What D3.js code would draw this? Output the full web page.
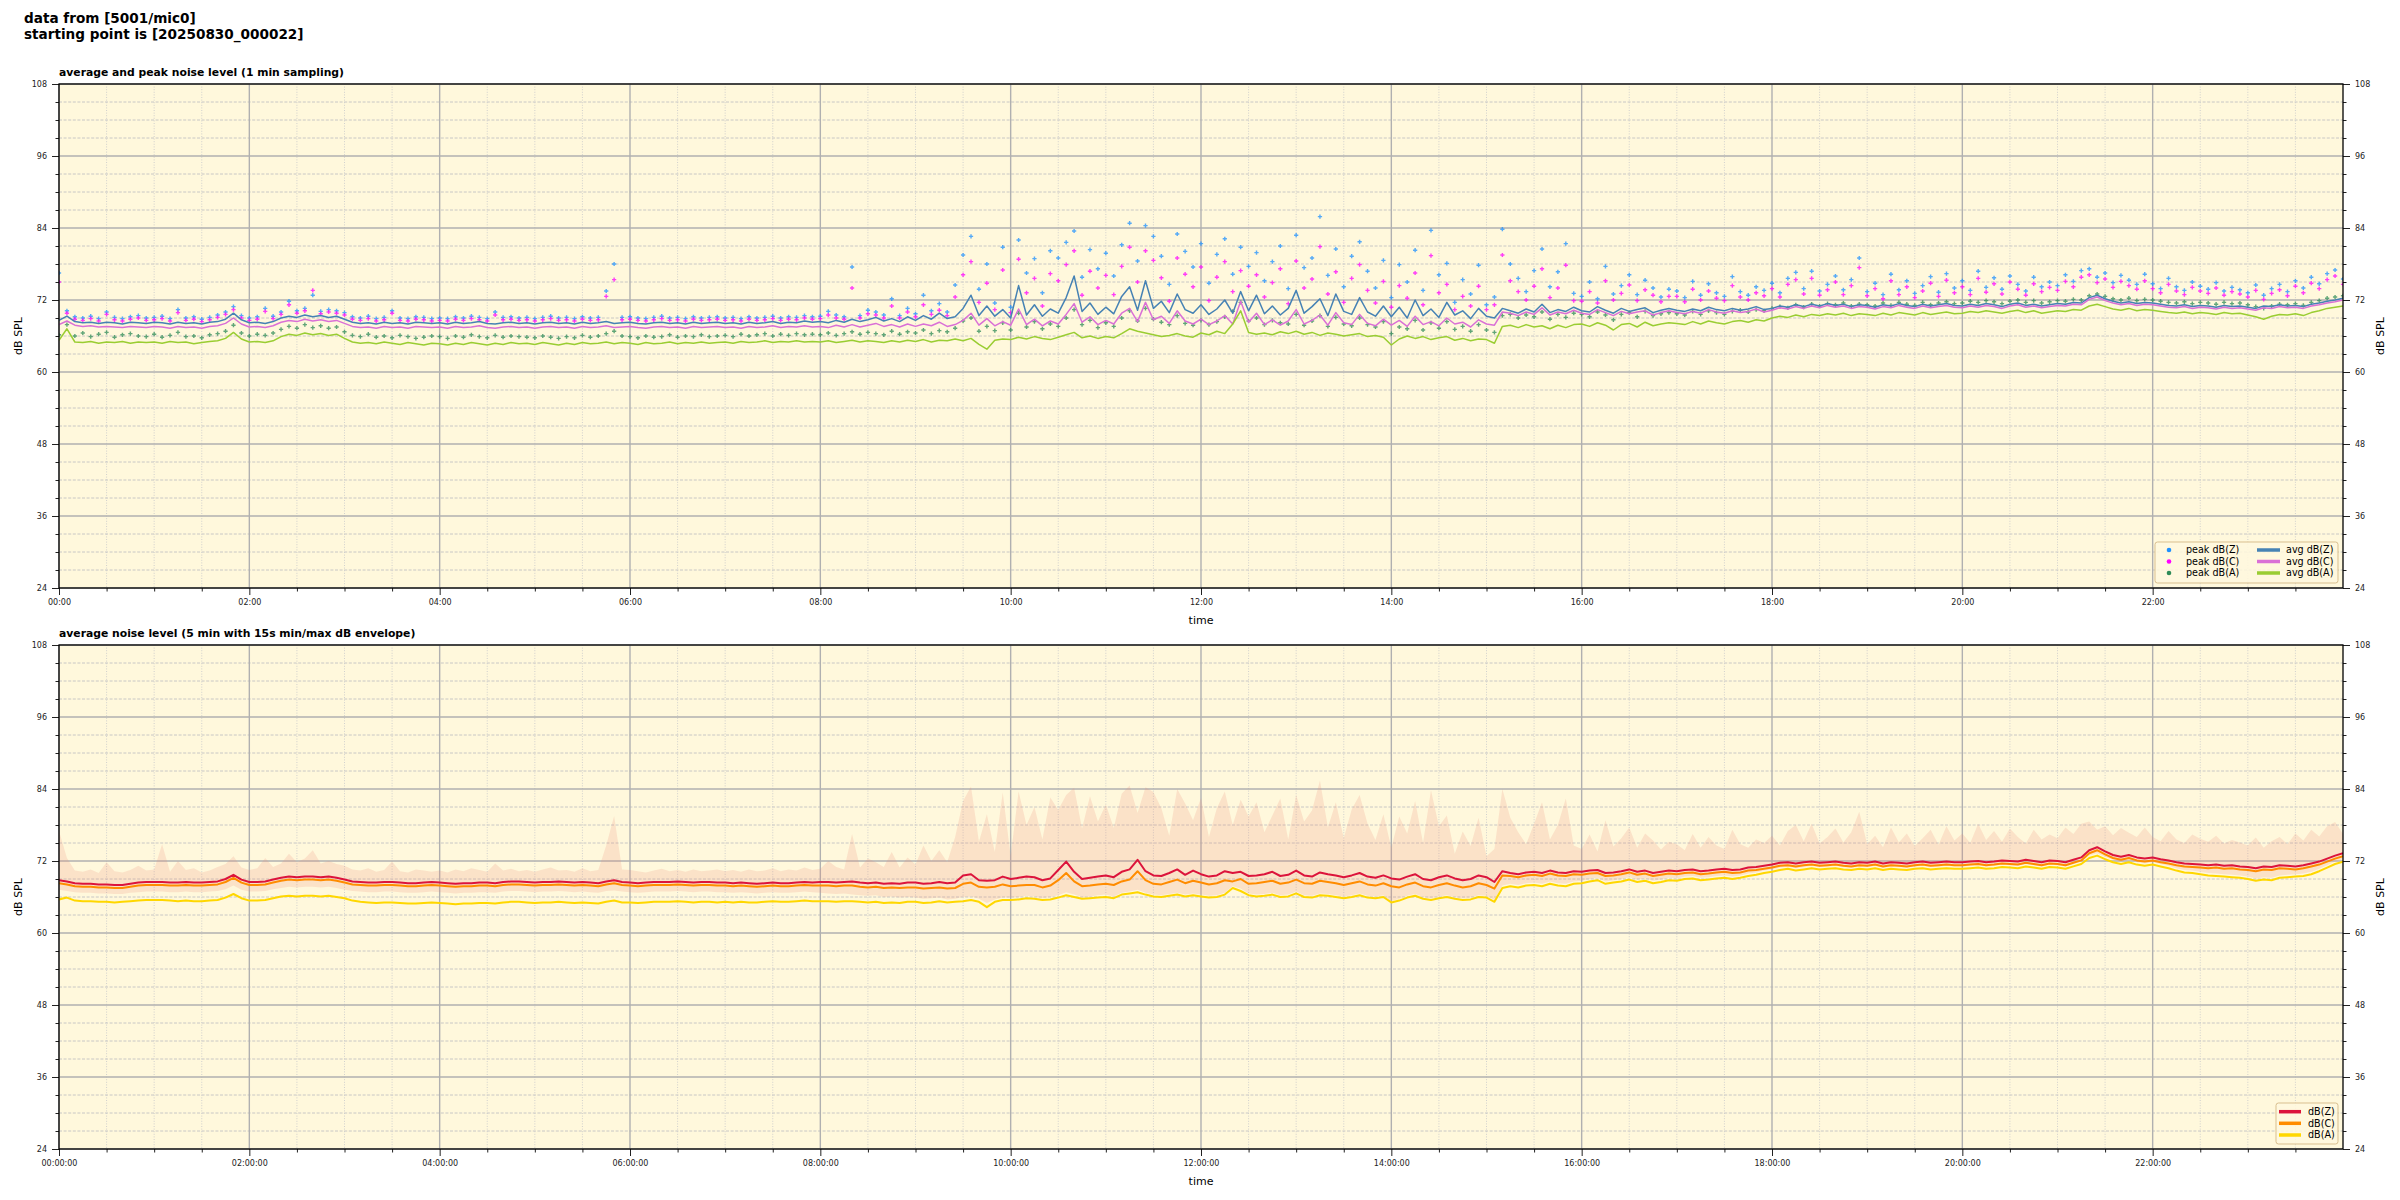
<!DOCTYPE html>
<html><head><meta charset="utf-8">
<script src="https://cdn.jsdelivr.net/npm/d3@7"></script>
<style>body{margin:0;background:#fff} text{font-family:"DejaVu Sans",sans-serif}</style>
</head><body><svg id="c" width="2400" height="1200" xmlns="http://www.w3.org/2000/svg"></svg>
<script>
// ---------------- DATA ----------------
const titleLines = ["data from [5001/mic0]", "starting point is [20250830_000022]"];
const topTitle = "average and peak noise level (1 min sampling)";
const bottomTitle = "average noise level (5 min with 15s min/max dB envelope)";
const startISO = "2025-08-30T00:00:00Z";
const stepMinutes = 5;
const yMajorTicks = [24, 36, 48, 60, 72, 84, 96, 108];
const yDomain = [24, 108];
const topLegend = ["peak dB(Z)", "peak dB(C)", "peak dB(A)", "avg dB(Z)", "avg dB(C)", "avg dB(A)"];
const bottomLegend = ["dB(Z)", "dB(C)", "dB(A)"];

// top panel: 1-min sampling, read every 5 min
const avgZ = [
68.6,69.3,68.4,68.2,68.3,68.1,68.3,68.2,68.0,68.3,68.2,68.1,
68.3,68.2,68.0,68.3,68.1,68.2,68.0,68.3,68.4,68.8,69.8,68.7,
68.2,68.3,68.1,68.4,69.0,69.3,69.1,69.5,69.2,69.4,69.1,69.3,
68.8,68.3,68.1,68.2,68.0,68.3,68.1,68.2,68.0,68.3,68.2,68.1,
68.2,68.0,68.3,68.1,68.2,68.4,68.1,68.0,68.2,68.3,68.1,68.2,
68.0,68.2,68.3,68.1,68.2,68.0,68.3,68.1,68.2,68.4,68.1,68.2,
68.3,68.1,68.0,68.2,68.3,68.1,68.2,68.0,68.3,68.1,68.2,68.3,
68.1,68.2,68.0,68.3,68.1,68.2,68.4,68.1,68.3,68.2,68.5,68.3,
68.4,68.2,68.6,68.3,68.8,68.4,68.7,69.1,68.5,68.9,68.4,69.2,
68.6,69.4,68.8,69.8,68.9,69.2,70.6,72.8,69.4,71.0,69.3,70.4,
69.0,74.4,69.5,71.2,69.3,70.5,69.8,72.4,76.0,70.1,71.5,69.6,
70.8,69.7,72.6,74.2,70.3,75.2,70.6,71.8,69.9,73.0,70.4,69.8,
71.2,69.6,70.5,72.0,69.8,73.4,70.2,72.8,69.7,71.0,69.5,70.6,
73.6,69.8,70.9,72.2,69.4,73.0,70.1,69.6,72.4,70.0,69.3,71.0,
69.2,70.8,69.0,72.0,69.4,70.5,69.1,71.6,69.5,70.2,68.9,70.6,
69.3,69.0,70.6,70.2,69.8,70.5,70.0,71.3,69.9,70.4,70.1,70.8,
70.2,70.0,70.9,70.3,69.8,70.6,70.1,70.4,70.7,69.9,70.3,70.6,
70.3,70.1,70.5,70.2,70.8,70.4,70.2,70.6,70.3,70.5,70.9,70.4,
70.6,71.0,70.8,71.2,70.9,71.3,71.0,71.4,71.1,71.3,70.9,71.2,
71.1,70.8,71.2,71.0,71.4,71.1,70.9,71.3,71.0,71.2,71.4,71.1,
71.0,71.3,71.1,71.4,71.2,70.9,71.3,71.5,71.1,71.3,71.0,71.2,
71.4,71.3,71.6,71.5,72.4,72.8,72.2,71.8,71.5,71.7,71.4,71.6,
71.5,71.3,71.1,71.0,71.2,70.9,71.1,71.0,70.8,71.1,70.9,71.0,
70.8,70.6,71.0,70.9,71.2,71.0,71.1,70.9,71.3,71.5,71.8,72.0,
72.3];
const avgC = [
67.9,68.5,67.8,67.6,67.7,67.5,67.6,67.5,67.4,67.6,67.5,67.4,
67.6,67.5,67.3,67.6,67.4,67.5,67.3,67.6,67.7,68.1,69.0,68.0,
67.5,67.6,67.4,67.7,68.3,68.6,68.4,68.8,68.5,68.7,68.4,68.6,
68.1,67.6,67.4,67.5,67.3,67.6,67.4,67.5,67.3,67.6,67.5,67.4,
67.5,67.3,67.6,67.4,67.5,67.7,67.4,67.3,67.5,67.6,67.4,67.5,
67.3,67.5,67.6,67.4,67.5,67.3,67.6,67.4,67.5,67.7,67.4,67.5,
67.6,67.4,67.3,67.5,67.6,67.4,67.5,67.3,67.6,67.4,67.5,67.6,
67.4,67.5,67.3,67.6,67.4,67.5,67.7,67.4,67.6,67.5,67.7,67.5,
67.6,67.4,67.8,67.5,67.9,67.5,67.8,68.1,67.6,67.9,67.5,68.0,
67.6,68.0,67.7,68.3,67.6,67.9,68.6,69.8,67.8,68.9,67.7,68.4,
67.8,70.5,67.9,68.8,67.7,68.5,68.0,69.6,71.4,68.3,69.2,67.9,
68.6,68.0,69.8,70.6,68.4,71.6,68.7,69.3,68.1,70.2,68.5,68.0,
68.8,67.9,68.5,69.4,68.0,71.8,68.3,69.8,67.9,68.7,67.8,68.5,
70.4,68.0,68.6,69.5,67.8,69.9,68.2,67.9,69.6,68.1,67.7,68.8,
67.8,68.6,67.6,69.3,67.9,68.4,67.7,69.0,68.0,68.3,67.5,68.7,
68.0,67.8,70.0,69.8,69.4,70.0,69.6,70.7,69.5,70.0,69.7,70.3,
69.8,69.6,70.4,69.9,69.4,70.1,69.7,70.0,70.2,69.5,69.9,70.2,
69.9,69.7,70.1,69.8,70.4,70.0,69.8,70.2,69.9,70.1,70.5,70.0,
70.3,70.7,70.5,70.9,70.6,71.0,70.7,71.1,70.8,71.0,70.6,70.9,
70.8,70.5,70.9,70.7,71.1,70.8,70.6,71.0,70.7,70.9,71.1,70.8,
70.7,71.0,70.8,71.1,70.9,70.6,71.0,71.2,70.8,71.0,70.7,70.9,
71.1,71.0,71.3,71.2,72.1,72.5,71.9,71.5,71.2,71.4,71.1,71.3,
71.2,71.0,70.8,70.7,70.9,70.6,70.8,70.7,70.5,70.8,70.6,70.7,
70.5,70.3,70.7,70.6,70.9,70.7,70.8,70.6,71.0,71.2,71.5,71.7,
72.0];
const avgA = [
65.3,67.2,65.0,64.9,65.1,64.8,65.0,64.9,65.1,64.8,65.0,64.9,
65.0,64.8,65.1,64.9,65.0,64.7,64.9,65.1,65.2,65.6,66.6,65.5,
65.0,65.1,64.9,65.2,65.9,66.3,66.1,66.5,66.2,66.4,66.1,66.3,
65.6,65.0,64.8,64.9,64.7,65.0,64.8,64.6,64.9,64.7,64.5,64.8,
64.7,64.5,64.8,64.6,64.9,64.7,64.5,64.8,64.6,64.9,64.7,64.8,
64.6,64.9,64.7,64.5,64.8,64.6,64.9,64.7,64.8,65.0,64.7,64.9,
64.8,64.6,64.9,64.7,64.8,65.0,64.7,64.9,64.8,65.0,64.8,64.9,
65.0,64.8,65.1,64.9,65.0,65.2,64.9,65.1,65.0,65.2,65.0,65.1,
65.0,65.2,64.9,65.1,65.3,65.0,65.2,65.1,64.9,65.2,65.0,65.3,
65.1,65.4,65.0,65.3,65.2,65.5,65.2,65.6,64.6,63.8,65.3,65.5,
65.4,65.8,65.5,65.9,65.6,65.4,65.8,66.2,66.6,65.7,66.0,65.6,
65.9,65.7,66.4,67.2,66.8,66.5,66.2,65.9,66.1,66.4,66.0,65.8,
66.5,66.2,66.8,66.4,68.0,70.2,66.6,66.3,66.5,66.2,66.7,66.4,
66.8,66.3,66.6,66.1,66.5,66.3,66.0,66.2,66.4,65.9,66.1,65.8,
64.5,65.5,66.0,65.6,65.9,65.4,65.7,65.9,65.3,65.6,65.2,65.5,
65.4,64.8,67.6,67.8,67.4,67.9,67.5,67.7,67.2,67.8,67.4,67.9,
68.0,67.6,68.2,67.8,67.0,67.9,68.1,67.5,68.3,67.7,68.0,68.2,
68.1,67.9,68.4,68.0,68.5,68.2,68.0,68.4,68.6,68.3,68.7,68.5,
69.0,69.3,69.1,69.5,69.2,69.6,69.4,69.7,69.5,69.8,69.4,69.7,
69.6,69.4,69.8,69.5,69.9,69.7,69.5,69.9,69.6,69.8,70.0,69.7,
69.8,70.1,69.9,70.2,70.0,69.8,70.1,70.3,69.9,70.2,69.8,70.0,
70.2,70.1,70.4,70.3,71.0,71.3,70.9,70.5,70.3,70.6,70.2,70.4,
70.3,70.1,69.9,69.8,70.0,69.7,69.9,69.8,69.6,69.9,69.7,69.8,
69.5,69.2,68.8,69.3,69.6,69.5,69.7,69.4,69.9,70.2,70.6,70.8,
71.0];
const peakZ = [
76.5,70.2,69.2,69.0,69.3,68.9,70.0,69.1,68.9,69.2,69.4,69.0,
69.1,69.3,68.9,70.4,69.0,69.2,68.8,69.1,69.5,70.0,70.9,69.4,
69.0,69.2,70.6,69.3,70.0,71.8,70.2,70.6,72.8,70.1,70.4,70.2,
69.9,69.2,69.0,69.3,68.9,69.1,70.2,69.0,68.9,69.2,69.1,68.9,
69.0,68.9,69.2,69.0,69.3,69.1,68.9,70.0,69.1,69.2,69.0,69.1,
68.9,69.1,69.3,69.0,69.1,68.9,69.2,69.0,69.1,73.5,78.0,69.1,
69.2,69.0,68.9,69.1,69.3,69.0,69.1,68.9,69.2,69.0,69.1,69.2,
69.0,69.1,68.9,69.2,69.0,69.1,69.3,69.0,69.2,69.1,69.4,69.2,
69.3,70.1,69.5,69.2,77.5,69.4,70.3,70.0,69.5,72.2,69.4,70.6,
69.7,72.8,70.2,71.4,70.0,74.5,79.5,82.6,73.8,78.0,71.5,80.8,
70.8,82.0,76.5,78.9,73.2,80.2,79.0,81.6,83.5,75.8,80.4,77.2,
79.8,76.0,81.2,84.8,78.5,84.4,82.6,79.3,74.6,83.0,80.1,77.5,
81.4,74.8,79.6,82.2,76.3,80.8,77.6,79.9,75.2,78.4,81.0,73.9,
82.8,77.4,79.0,85.9,76.1,80.5,74.2,79.3,81.7,76.8,74.0,78.6,
72.4,77.9,75.0,80.3,73.6,83.6,76.2,78.1,71.6,75.4,73.0,77.8,
71.2,72.5,83.8,78.0,75.6,73.4,76.9,80.5,74.2,76.7,81.4,73.1,
72.6,75.0,72.2,77.6,73.0,74.4,76.2,72.9,75.3,74.0,72.5,73.8,
73.5,72.4,75.1,72.8,74.7,73.2,72.6,75.9,73.4,72.8,74.2,73.6,
74.8,73.2,75.6,76.6,73.9,76.8,73.5,74.6,76.0,73.7,75.4,79.0,
73.4,74.8,72.9,76.3,73.7,75.2,73.1,74.4,75.9,73.3,76.4,74.0,
75.2,73.6,76.8,74.1,75.7,73.8,76.0,74.6,73.5,75.8,74.2,75.0,
74.4,76.2,75.1,76.9,77.2,75.8,76.5,74.9,76.1,75.3,74.6,76.3,
74.7,73.9,75.6,74.2,73.6,75.0,74.3,73.8,74.9,73.5,74.1,73.7,
73.2,74.5,72.8,73.9,74.6,73.4,75.2,74.0,75.8,74.7,76.4,77.0,
75.5];
const peakC = [
75.0,69.8,68.8,68.6,68.9,68.5,69.6,68.7,68.5,68.8,69.0,68.6,
68.7,68.9,68.5,69.9,68.6,68.8,68.4,68.7,69.1,69.6,70.4,69.0,
68.6,68.8,70.1,68.9,69.6,71.2,69.8,70.2,73.6,69.7,70.0,69.8,
69.5,68.8,68.6,68.9,68.5,68.7,69.8,68.6,68.5,68.8,68.7,68.5,
68.6,68.5,68.8,68.6,68.9,68.7,68.5,69.5,68.7,68.8,68.6,68.7,
68.5,68.7,68.9,68.6,68.7,68.5,68.8,68.6,68.7,72.6,75.4,68.7,
68.8,68.6,68.5,68.7,68.9,68.6,68.7,68.5,68.8,68.6,68.7,68.8,
68.6,68.7,68.5,68.8,68.6,68.7,68.9,68.6,68.8,68.7,69.0,68.8,
68.9,69.5,69.0,68.8,74.0,69.0,69.7,69.5,69.0,71.0,69.0,70.0,
69.2,71.2,69.6,70.3,69.4,72.5,76.2,78.4,71.6,74.8,70.4,77.0,
69.9,78.8,73.2,75.6,71.0,76.4,75.2,77.9,80.2,72.8,76.8,74.0,
76.1,72.9,77.6,80.8,75.0,80.2,78.6,75.7,71.8,79.0,76.3,74.2,
77.5,71.9,75.8,78.4,73.4,76.9,74.3,76.2,72.5,74.9,77.2,71.4,
78.5,74.0,75.5,80.9,73.0,76.7,71.6,75.6,77.9,73.6,71.5,75.1,
70.8,74.4,72.3,76.5,71.2,79.4,73.2,74.6,70.4,72.6,71.0,74.3,
70.4,71.2,79.5,75.2,73.4,72.0,74.3,77.2,72.4,74.0,77.8,71.9,
71.8,73.4,71.5,75.2,72.0,73.1,74.5,71.9,73.7,72.8,71.7,72.6,
72.6,71.7,73.8,72.0,73.5,72.3,71.9,74.4,72.5,72.0,73.2,72.7,
73.9,72.5,74.6,75.4,73.0,75.6,72.8,73.7,75.0,72.9,74.4,77.4,
72.7,73.9,72.2,75.2,72.9,74.2,72.4,73.5,74.8,72.6,75.3,73.2,
74.2,72.9,75.6,73.3,74.7,73.0,75.0,73.8,72.8,74.7,73.4,74.1,
73.6,75.1,74.2,75.8,76.2,74.9,75.5,74.1,75.1,74.4,73.8,75.2,
73.9,73.2,74.6,73.5,72.9,74.1,73.5,73.1,74.0,72.8,73.4,73.0,
72.5,73.6,72.1,73.1,73.7,72.7,74.3,73.2,74.8,73.9,75.4,76.0,
74.6];
const peakA = [
66.2,67.9,66.0,66.5,65.9,66.3,66.6,65.8,66.2,66.4,66.0,65.9,
66.3,65.8,66.1,66.6,65.9,66.0,65.7,66.2,66.4,66.8,67.8,66.5,
66.0,66.3,66.1,66.5,67.1,67.6,67.3,67.9,67.4,67.7,67.3,67.5,
66.7,66.1,65.9,66.3,65.8,66.0,65.7,66.1,65.9,65.6,65.8,66.0,
65.9,65.6,66.0,65.8,66.2,65.9,65.7,66.1,65.8,66.0,65.9,65.8,
65.7,66.0,65.8,65.6,65.9,65.7,66.1,65.8,66.0,66.4,66.8,66.0,
65.9,65.7,66.0,65.8,65.9,66.2,65.8,66.0,65.9,66.2,65.9,66.0,
66.1,65.9,66.3,66.0,66.2,66.4,66.0,66.3,66.1,66.4,66.2,66.3,
66.2,66.5,66.1,66.4,66.7,66.3,66.6,66.4,66.2,66.8,66.3,66.7,
66.5,67.0,66.4,66.9,66.7,67.3,68.5,69.0,66.8,67.6,66.9,68.2,
67.0,69.8,67.5,68.4,67.2,68.0,67.6,69.0,70.4,67.9,68.6,67.4,
68.2,67.6,69.0,70.2,68.5,70.6,68.8,68.3,67.9,69.4,68.1,67.8,
68.6,67.9,68.4,69.2,70.1,71.6,68.5,69.0,67.9,68.6,68.2,68.0,
69.6,67.8,68.5,69.4,67.6,69.1,68.0,67.7,69.0,67.9,67.5,68.4,
66.4,67.5,67.2,68.6,67.0,68.2,67.3,68.4,67.1,67.6,66.8,67.9,
67.0,66.6,69.4,69.6,69.0,69.5,69.2,70.0,68.8,69.6,69.1,69.8,
69.6,69.2,70.0,69.5,68.7,69.6,69.9,69.2,70.1,69.4,69.7,69.9,
69.7,69.5,70.1,69.6,70.2,69.9,69.6,70.1,70.3,70.0,70.4,70.2,
70.6,70.9,70.7,71.2,70.8,71.3,71.0,71.4,71.2,71.5,71.0,71.3,
71.2,71.0,71.5,71.1,71.6,71.3,71.1,71.6,71.2,71.5,71.7,71.4,
71.5,71.8,71.6,71.9,71.7,71.4,71.8,72.0,71.6,71.9,71.5,71.7,
71.9,71.8,72.1,72.0,72.7,73.0,72.6,72.2,72.0,72.3,71.9,72.1,
72.0,71.8,71.6,71.5,71.7,71.4,71.6,71.5,71.3,71.6,71.4,71.5,
71.2,70.9,70.6,71.0,71.3,71.2,71.4,71.1,71.6,71.9,72.3,72.5,
72.7];

// bottom panel: 5-min averages and 15 s min/max envelope
const dbZ5 = [
68.8,68.6,68.3,68.2,68.2,68.1,68.1,68.0,68.0,68.2,68.4,68.5,
68.5,68.5,68.4,68.4,68.5,68.4,68.4,68.5,68.6,69.0,69.7,68.9,
68.5,68.5,68.6,68.9,69.2,69.4,69.3,69.4,69.4,69.3,69.4,69.2,
68.9,68.6,68.5,68.4,68.4,68.5,68.5,68.4,68.3,68.3,68.4,68.5,
68.4,68.3,68.2,68.3,68.3,68.4,68.4,68.3,68.5,68.6,68.6,68.5,
68.4,68.5,68.5,68.6,68.5,68.4,68.5,68.4,68.3,68.6,68.8,68.5,
68.4,68.3,68.4,68.5,68.5,68.5,68.6,68.5,68.4,68.5,68.5,68.4,
68.4,68.3,68.4,68.3,68.2,68.3,68.4,68.3,68.3,68.4,68.5,68.4,
68.5,68.5,68.4,68.5,68.6,68.4,68.3,68.4,68.2,68.3,68.2,68.4,
68.4,68.2,68.3,68.5,68.3,68.4,69.6,69.8,68.8,68.7,68.8,69.4,
69.0,69.2,69.4,69.3,68.8,69.1,70.5,71.9,70.2,69.0,69.2,69.4,
69.6,69.3,70.2,70.6,72.2,70.3,69.6,69.5,70.0,70.6,69.7,70.4,
69.8,69.4,69.6,70.3,70.0,70.2,69.5,69.6,69.8,70.2,69.5,69.7,
70.4,69.6,69.4,70.1,69.8,69.6,69.3,69.6,70.0,69.4,69.2,69.6,
69.1,68.9,69.4,69.8,69.0,68.8,69.3,69.6,69.1,68.8,69.0,69.6,
69.3,68.5,70.3,70.0,69.8,70.1,70.2,70.0,70.4,70.1,70.0,70.3,
70.2,70.4,70.5,70.0,70.1,70.3,70.6,70.2,70.4,70.0,70.2,70.4,
70.3,70.5,70.6,70.3,70.4,70.6,70.7,70.5,70.6,70.9,71.0,71.2,
71.4,71.7,71.8,71.6,71.8,71.9,71.7,71.8,71.9,71.7,71.6,71.8,
71.7,71.9,71.6,71.8,71.7,71.6,71.8,71.9,71.7,71.8,71.9,71.8,
71.8,71.9,72.0,71.8,71.9,72.1,72.0,71.9,72.2,72.0,71.8,72.1,
72.0,71.8,72.2,72.6,73.8,74.3,73.6,73.0,72.7,73.0,72.6,72.4,
72.6,72.3,72.1,71.8,71.6,71.5,71.4,71.3,71.4,71.2,71.3,71.1,
71.0,70.8,71.1,71.0,71.3,71.2,71.1,71.3,71.6,71.9,72.4,72.9,
73.3];
const dbC5 = [
68.3,68.1,67.8,67.7,67.7,67.6,67.6,67.5,67.5,67.7,67.9,68.0,
68.0,68.0,67.9,67.9,68.0,67.9,67.9,68.0,68.1,68.5,69.2,68.4,
68.0,68.0,68.1,68.4,68.7,68.9,68.8,68.9,68.9,68.8,68.9,68.7,
68.4,68.1,68.0,67.9,67.9,68.0,68.0,67.9,67.8,67.8,67.9,68.0,
67.9,67.8,67.7,67.8,67.8,67.9,67.9,67.8,68.0,68.1,68.1,68.0,
67.9,68.0,68.0,68.1,68.0,67.9,68.0,67.9,67.8,68.1,68.3,68.0,
67.9,67.8,67.9,68.0,68.0,68.0,68.1,68.0,67.9,68.0,68.0,67.9,
67.9,67.8,67.9,67.8,67.7,67.8,67.9,67.8,67.8,67.9,68.0,67.9,
67.9,67.9,67.8,67.9,67.9,67.7,67.6,67.7,67.5,67.6,67.5,67.6,
67.6,67.4,67.5,67.6,67.4,67.5,68.2,68.4,67.7,67.6,67.7,68.1,
67.8,67.9,68.0,68.0,67.6,67.9,68.8,70.0,68.6,67.8,67.9,68.1,
68.2,68.0,68.6,68.9,70.3,68.8,68.2,68.1,68.5,68.9,68.3,68.7,
68.4,68.1,68.3,68.8,68.6,69.0,68.2,68.3,68.5,68.7,68.2,68.4,
68.9,68.3,68.2,68.7,68.5,68.3,68.0,68.3,68.6,68.1,67.9,68.3,
67.8,67.6,68.1,68.4,67.8,67.6,68.0,68.3,67.9,67.6,67.8,68.3,
68.0,67.4,69.6,69.5,69.3,69.6,69.7,69.5,69.9,69.6,69.5,69.8,
69.7,69.9,70.0,69.5,69.6,69.8,70.1,69.7,69.9,69.5,69.7,69.9,
69.8,70.0,70.1,69.8,69.9,70.1,70.2,70.0,70.1,70.4,70.5,70.7,
70.9,71.2,71.3,71.1,71.3,71.4,71.2,71.3,71.4,71.2,71.1,71.3,
71.2,71.4,71.1,71.3,71.2,71.1,71.3,71.4,71.2,71.3,71.4,71.3,
71.3,71.4,71.5,71.3,71.4,71.6,71.5,71.4,71.7,71.5,71.3,71.6,
71.5,71.3,71.7,72.1,73.3,73.8,73.1,72.5,72.2,72.5,72.1,71.9,
72.1,71.8,71.6,71.3,71.1,71.0,70.9,70.8,70.9,70.7,70.8,70.6,
70.5,70.3,70.6,70.5,70.8,70.7,70.6,70.8,71.1,71.4,71.9,72.4,
72.8];
const dbA5 = [
65.6,65.9,65.4,65.3,65.3,65.2,65.2,65.1,65.2,65.3,65.4,65.5,
65.5,65.5,65.4,65.3,65.4,65.3,65.3,65.4,65.5,65.9,66.5,65.8,
65.4,65.4,65.5,65.8,66.1,66.2,66.1,66.2,66.2,66.1,66.2,66.0,
65.8,65.4,65.2,65.1,65.0,65.1,65.1,65.0,64.9,64.9,65.0,65.1,
65.0,64.9,64.8,64.9,64.9,65.0,65.0,64.9,65.1,65.2,65.2,65.1,
65.0,65.1,65.1,65.2,65.1,65.0,65.1,65.0,64.9,65.2,65.4,65.1,
65.1,65.0,65.1,65.2,65.2,65.2,65.3,65.2,65.1,65.2,65.2,65.1,
65.2,65.1,65.2,65.1,65.1,65.2,65.3,65.2,65.2,65.3,65.4,65.3,
65.3,65.3,65.2,65.3,65.3,65.2,65.1,65.2,65.0,65.1,65.0,65.2,
65.2,65.0,65.1,65.3,65.1,65.2,65.3,65.5,65.2,64.3,65.2,65.5,
65.5,65.6,65.8,65.7,65.5,65.6,65.9,66.3,66.0,65.7,65.8,65.9,
66.0,65.8,66.4,66.6,66.8,66.4,66.1,66.0,66.2,66.4,66.1,66.3,
66.1,65.9,66.0,66.4,67.5,67.0,66.3,66.1,66.2,66.4,66.0,66.1,
66.6,66.0,65.9,66.3,66.2,66.0,65.8,66.0,66.3,65.9,65.8,66.0,
65.1,65.4,65.9,66.2,65.7,65.5,65.8,66.0,65.7,65.5,65.6,66.0,
65.9,65.2,67.5,67.8,67.6,67.9,68.0,67.8,68.2,67.9,67.8,68.2,
68.3,68.6,68.8,68.2,68.4,68.6,68.9,68.5,68.7,68.3,68.5,68.8,
68.7,69.0,69.1,68.8,68.9,69.1,69.2,69.0,69.2,69.5,69.7,70.0,
70.2,70.5,70.7,70.4,70.6,70.8,70.6,70.7,70.8,70.6,70.5,70.7,
70.6,70.8,70.5,70.7,70.6,70.5,70.7,70.8,70.6,70.7,70.8,70.7,
70.7,70.8,70.9,70.7,70.8,71.0,70.9,70.8,71.1,70.9,70.7,71.0,
70.9,70.7,71.1,71.5,72.5,72.9,72.3,71.8,71.5,71.8,71.4,71.2,
71.4,71.1,70.8,70.4,70.1,70.0,69.8,69.6,69.5,69.4,69.3,69.2,
69.0,68.7,68.9,68.8,69.2,69.3,69.4,69.5,69.8,70.3,70.9,71.5,
71.9];
const envMax = [
77.0,72.5,70.4,70.2,70.6,70.0,71.8,70.3,70.1,70.5,71.2,70.4,
70.6,74.8,70.2,72.0,70.5,70.8,70.1,70.4,71.0,71.5,72.8,70.9,
70.5,70.8,72.5,71.0,71.6,73.2,71.8,72.4,73.8,71.6,72.0,71.5,
71.2,70.6,70.4,70.8,70.2,70.5,71.9,70.3,70.1,70.6,70.4,70.2,
70.4,70.1,70.6,70.3,70.8,70.5,70.2,71.6,70.4,70.7,70.3,70.5,
70.2,70.6,70.9,70.4,70.5,70.2,70.8,70.3,70.5,74.6,79.5,70.6,
70.5,70.3,70.1,70.4,70.7,70.3,70.5,70.2,70.6,70.3,70.4,70.6,
70.3,70.5,70.2,70.6,70.3,70.4,70.8,70.3,70.6,70.4,70.9,70.5,
70.7,72.0,71.0,70.6,76.5,70.9,72.4,71.8,71.0,73.5,70.9,72.6,
71.4,74.6,72.0,73.8,71.8,76.0,82.0,84.4,75.2,79.8,73.5,83.4,
72.8,83.6,78.0,81.0,75.6,82.6,80.5,83.0,84.2,77.4,82.8,78.6,
81.4,77.5,83.2,84.6,80.0,84.3,83.5,80.8,76.2,84.0,81.6,78.8,
82.5,76.0,80.8,83.6,78.0,82.2,79.4,81.8,76.8,79.6,82.4,75.6,
83.0,78.6,80.4,85.4,77.6,81.8,75.8,80.6,83.0,78.2,75.5,79.8,
74.2,79.4,76.6,82.0,75.0,83.8,77.8,79.6,73.2,76.9,74.5,79.2,
72.8,74.0,84.0,79.2,76.8,74.8,78.2,81.8,75.6,78.0,82.4,74.6,
74.0,76.4,73.6,78.8,74.4,75.8,77.6,74.2,76.6,75.4,73.9,75.2,
74.8,73.8,76.5,74.2,76.0,74.6,74.0,77.2,74.8,74.2,75.6,75.0,
76.2,74.6,77.0,78.0,75.3,78.2,74.9,76.0,77.4,75.1,76.8,80.2,
74.8,76.2,74.3,77.6,75.1,76.6,74.5,75.8,77.2,74.7,77.8,75.4,
76.6,75.0,78.2,75.5,77.0,75.2,77.4,76.0,74.9,77.2,75.6,76.4,
75.8,77.6,76.5,78.2,78.6,77.2,77.8,76.3,77.5,76.7,76.0,77.6,
76.0,75.3,77.0,75.6,75.0,76.4,75.7,75.2,76.2,74.9,75.5,75.1,
74.6,75.9,74.2,75.3,76.0,74.8,76.6,75.4,77.2,76.1,77.8,78.5,
76.5];
const envMin = [
67.2,67.0,66.8,66.7,66.7,66.6,66.6,66.5,66.5,66.7,66.8,66.9,
66.9,66.9,66.8,66.8,66.9,66.8,66.8,66.9,67.0,67.3,67.9,67.2,
66.9,66.9,67.0,67.3,67.5,67.7,67.6,67.7,67.7,67.6,67.7,67.5,
67.2,67.0,66.9,66.8,66.8,66.9,66.9,66.8,66.7,66.7,66.8,66.9,
66.8,66.7,66.6,66.7,66.7,66.8,66.8,66.7,66.9,67.0,67.0,66.9,
66.8,66.9,66.9,67.0,66.9,66.8,66.9,66.8,66.7,67.0,67.1,66.9,
66.8,66.7,66.8,66.9,66.9,66.9,67.0,66.9,66.8,66.9,66.9,66.8,
66.8,66.7,66.8,66.7,66.6,66.7,66.8,66.7,66.7,66.8,66.9,66.8,
66.7,66.6,66.5,66.6,66.4,66.3,66.2,66.3,66.0,66.1,65.9,66.0,
65.9,65.7,65.8,65.9,65.6,65.7,66.0,66.1,65.7,65.0,65.6,65.9,
65.9,66.0,66.2,66.1,65.8,66.0,66.3,66.8,66.4,66.0,66.1,66.3,
66.4,66.1,66.7,66.9,67.2,66.7,66.4,66.3,66.5,66.7,66.4,66.6,
66.4,66.2,66.3,66.7,67.8,67.4,66.6,66.4,66.5,66.7,66.3,66.4,
66.9,66.3,66.2,66.6,66.5,66.3,66.1,66.3,66.6,66.2,66.1,66.3,
65.3,65.7,66.2,66.5,66.0,65.8,66.1,66.3,66.0,65.8,65.9,66.3,
66.2,65.5,67.9,68.2,68.0,68.3,68.4,68.2,68.6,68.3,68.2,68.6,
68.7,69.0,69.2,68.6,68.8,69.0,69.3,68.9,69.1,68.7,68.9,69.2,
69.1,69.4,69.5,69.2,69.3,69.5,69.6,69.4,69.6,69.9,70.1,70.4,
70.6,70.9,71.1,70.8,71.0,71.2,71.0,71.1,71.2,71.0,70.9,71.1,
71.0,71.2,70.9,71.1,71.0,70.9,71.1,71.2,71.0,71.1,71.2,71.1,
71.1,71.2,71.3,71.1,71.2,71.4,71.3,71.2,71.5,71.3,71.1,71.4,
71.3,71.1,71.5,71.9,72.9,73.3,72.7,72.2,71.9,72.2,71.8,71.6,
71.8,71.5,71.2,70.8,70.5,70.4,70.2,70.0,69.9,69.8,69.7,69.6,
69.4,69.1,69.3,69.2,69.6,69.7,69.8,69.9,70.2,70.7,71.3,71.9,
72.3];

// ---------------- DRAWING ----------------
const svg = d3.select("#c");
const L = 59, R = 2343;
const t0 = new Date(startISO);
const t1 = d3.utcDay.offset(t0, 1);
const x = d3.scaleUtc().domain([t0, t1]).range([L, R]);
const tAt = i => d3.utcMinute.offset(t0, i * stepMinutes);
const BG = "#fff8dc";

svg.append("rect").attr("width", 2400).attr("height", 1200).attr("fill", "#fff");

svg.append("text").attr("x", 24).attr("y", 23).attr("font-size", 13.6).attr("font-weight", "bold").text(titleLines[0]);
svg.append("text").attr("x", 24).attr("y", 39).attr("font-size", 13.6).attr("font-weight", "bold").text(titleLines[1]);

function makePanel(top, bottom, title, tfmt, id) {
  const y = d3.scaleLinear().domain(yDomain).range([bottom, top]);
  const g = svg.append("g");
  g.append("rect").attr("x", L).attr("y", top).attr("width", R - L).attr("height", bottom - top).attr("fill", BG);

  // minor grid
  const minorY = d3.range(yDomain[0], yDomain[1] + 0.1, 3).filter(v => !yMajorTicks.includes(v));
  g.append("g").selectAll("line").data(minorY).join("line")
    .attr("x1", L).attr("x2", R).attr("y1", d => y(d)).attr("y2", d => y(d))
    .attr("stroke", "#c2c2c2").attr("stroke-width", 0.9).attr("stroke-dasharray", "3,1.6");
  const minorX = d3.utcMinute.every(30).range(t0, t1).filter(d => !(d.getUTCMinutes() === 0 && d.getUTCHours() % 2 === 0));
  g.append("g").selectAll("line").data(minorX).join("line")
    .attr("x1", d => x(d)).attr("x2", d => x(d)).attr("y1", top).attr("y2", bottom)
    .attr("stroke", "#cccccc").attr("stroke-width", 0.9).attr("stroke-dasharray", "1,1.6");
  // major grid
  const majorX = d3.utcHour.every(2).range(t0, t1);
  g.append("g").selectAll("line").data(yMajorTicks).join("line")
    .attr("x1", L).attr("x2", R).attr("y1", d => y(d)).attr("y2", d => y(d))
    .attr("stroke", "#b0b0b0").attr("stroke-width", 1.4);
  g.append("g").selectAll("line").data(majorX).join("line")
    .attr("x1", d => x(d)).attr("x2", d => x(d)).attr("y1", top).attr("y2", bottom)
    .attr("stroke", "#b0b0b0").attr("stroke-width", 1.4);

  svg.append("clipPath").attr("id", "clip" + id).append("rect")
    .attr("x", L).attr("y", top).attr("width", R - L).attr("height", bottom - top);
  const plot = svg.append("g").attr("clip-path", `url(#clip${id})`);

  const styleAxis = (sel) => {
    sel.select(".domain").remove();
    sel.selectAll("text").attr("font-size", 8).attr("fill", "#222").attr("font-family", "DejaVu Sans");
    sel.selectAll("line").attr("stroke", "#222").attr("stroke-width", 1);
  };
  svg.append("g").attr("transform", `translate(${L},0)`)
    .call(d3.axisLeft(y).tickValues(yMajorTicks).tickSize(7).tickPadding(5).tickFormat(d3.format("d"))).call(styleAxis);
  svg.append("g").attr("transform", `translate(${L},0)`)
    .call(d3.axisLeft(y).tickValues(minorY).tickSize(3.5).tickFormat("")).call(styleAxis);
  svg.append("g").attr("transform", `translate(${R},0)`)
    .call(d3.axisRight(y).tickValues(yMajorTicks).tickSize(7).tickPadding(5).tickFormat(d3.format("d"))).call(styleAxis);
  svg.append("g").attr("transform", `translate(${R},0)`)
    .call(d3.axisRight(y).tickValues(minorY).tickSize(3.5).tickFormat("")).call(styleAxis);
  svg.append("g").attr("transform", `translate(0,${bottom})`)
    .call(d3.axisBottom(x).tickValues(majorX).tickSize(7).tickPadding(4).tickFormat(d3.utcFormat(tfmt))).call(styleAxis);
  svg.append("g").attr("transform", `translate(0,${bottom})`)
    .call(d3.axisBottom(x).tickValues(minorX).tickSize(3.5).tickFormat("")).call(styleAxis);

  svg.append("text").attr("x", L).attr("y", top - 8.5).attr("font-size", 10.8).attr("font-weight", "bold").text(title);
  svg.append("text").attr("x", (L + R) / 2).attr("y", bottom + 36).attr("text-anchor", "middle").attr("font-size", 11).text("time");
  svg.append("text").attr("transform", `translate(22,${(top + bottom) / 2}) rotate(-90)`).attr("text-anchor", "middle").attr("font-size", 11).text("dB SPL");
  svg.append("text").attr("transform", `translate(2384,${(top + bottom) / 2}) rotate(-90)`).attr("text-anchor", "middle").attr("font-size", 11).text("dB SPL");

  return {y, plot, top, bottom};
}

const P1 = makePanel(84, 588, topTitle, "%H:%M", 1);
const P2 = makePanel(645, 1149, bottomTitle, "%H:%M:%S", 2);

// ---- top panel marks ----
const topColorsPeak = ["#1e90ff", "#ff00ff", "#2e8b57"];
const topColorsAvg = ["#4682b4", "#da70d6", "#9acd32"];
const cross = d3.symbol().type(d3.symbolCross).size(10);
[peakZ, peakC, peakA].forEach((arr, k) => {
  P1.plot.append("g").selectAll("path").data(arr).join("path")
    .attr("d", cross)
    .attr("transform", (d, i) => `translate(${x(tAt(i))},${P1.y(d)})`)
    .attr("fill", topColorsPeak[k]).attr("fill-opacity", 0.75);
});
[avgZ, avgC, avgA].forEach((arr, k) => {
  const line = d3.line().x((d, i) => x(tAt(i))).y(d => P1.y(d));
  P1.plot.append("path").datum(arr).attr("d", line).attr("fill", "none")
    .attr("stroke", topColorsAvg[k]).attr("stroke-width", 1.5).attr("stroke-linejoin", "round");
});

// ---- bottom panel marks ----
const area = d3.area().x((d, i) => x(tAt(i))).y0((d, i) => P2.y(envMin[i])).y1(d => P2.y(d));
P2.plot.append("path").datum(envMax).attr("d", area).attr("fill", "#ec8a78").attr("fill-opacity", 0.2);
const botColors = ["#dc143c", "#ff8c00", "#ffd700"];
[dbZ5, dbC5, dbA5].forEach((arr, k) => {
  const line = d3.line().x((d, i) => x(tAt(i))).y(d => P2.y(d));
  P2.plot.append("path").datum(arr).attr("d", line).attr("fill", "none")
    .attr("stroke", botColors[k]).attr("stroke-width", 2).attr("stroke-linejoin", "round");
});

// frames
[P1, P2].forEach(p => {
  svg.append("rect").attr("x", L).attr("y", p.top).attr("width", R - L).attr("height", p.bottom - p.top)
    .attr("fill", "none").attr("stroke", "#000").attr("stroke-width", 1.3);
});

// ---- legends ----
function legendBox(x0, y0, w, h) {
  svg.append("rect").attr("x", x0).attr("y", y0).attr("width", w).attr("height", h).attr("rx", 2.5)
    .attr("fill", "#fff8de").attr("fill-opacity", 0.85).attr("stroke", "#d9bf8f").attr("stroke-width", 1);
}
legendBox(2155, 542, 183, 41);
const rowsTop = [550, 561.5, 573];
rowsTop.forEach((ry, k) => {
  svg.append("circle").attr("cx", 2169).attr("cy", ry).attr("r", 2.3).attr("fill", topColorsPeak[k]);
  svg.append("text").attr("x", 2186).attr("y", ry).attr("dy", "0.35em").attr("font-size", 9.6).text(topLegend[k]);
  svg.append("line").attr("x1", 2257).attr("x2", 2280).attr("y1", ry).attr("y2", ry)
    .attr("stroke", topColorsAvg[k]).attr("stroke-width", 3.5);
  svg.append("text").attr("x", 2286).attr("y", ry).attr("dy", "0.35em").attr("font-size", 9.6).text(topLegend[k + 3]);
});
legendBox(2276, 1103, 62, 41);
const rowsBot = [1111.7, 1123.3, 1135];
rowsBot.forEach((ry, k) => {
  svg.append("line").attr("x1", 2279).attr("x2", 2301).attr("y1", ry).attr("y2", ry)
    .attr("stroke", botColors[k]).attr("stroke-width", 3.5);
  svg.append("text").attr("x", 2308).attr("y", ry).attr("dy", "0.35em").attr("font-size", 9.6).text(bottomLegend[k]);
});
</script></body></html>
